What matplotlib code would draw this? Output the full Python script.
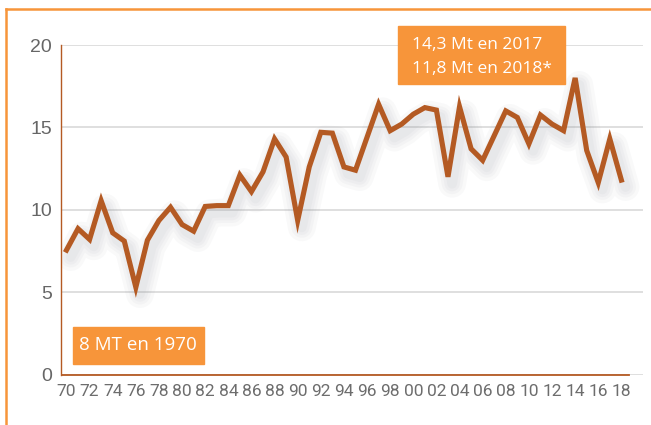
import matplotlib
matplotlib.use("Agg")
import matplotlib.pyplot as plt
import matplotlib.transforms as mtransforms
from matplotlib.lines import Line2D
from matplotlib.patches import Rectangle

years = list(range(1970, 2019))
values = [7.55, 8.85, 8.2, 10.55, 8.6, 8.1, 5.3, 8.15, 9.35, 10.15,
          9.1, 8.7, 10.2, 10.25, 10.25, 12.1, 11.1, 12.3, 14.3, 13.2,
          9.35, 12.6, 14.7, 14.65, 12.6, 12.4, 14.4, 16.4, 14.8, 15.2,
          15.8, 16.2, 16.05, 12.0, 16.25, 13.7, 13.0, 14.5, 16.0, 15.6,
          14.0, 15.75, 15.2, 14.8, 18.0, 13.6, 11.65, 14.3, 11.8]
tick_years = list(range(1970, 2019, 2))
tick_labels = [str(y)[2:] for y in tick_years]
y_ticks = [0, 5, 10, 15, 20]

orange = '#F7953A'
brown = '#B45A23'

W, H = 651, 425
fig = plt.figure(figsize=(W / 100, H / 100), dpi=100)
ax = fig.add_axes([61.5 / W, (H - 374.5) / H, (643 - 61.5) / W, (374.5 - 45) / H])

# soft drop shadow: a few wide, faint, round-joined copies shifted down-right
shift = ax.transData + mtransforms.ScaledTranslation(3 / 72, -5 / 72, fig.dpi_scale_trans)
for w in (20, 15, 11, 7):
    ax.plot(years, values, color='#8a8f99', alpha=0.05, lw=w,
            solid_joinstyle='round', solid_capstyle='round', transform=shift, zorder=2)
ax.plot(years, values, color=brown, lw=3.7, solid_joinstyle='miter', zorder=3)

ax.set_xlim(1969.57, 2019.87)
ax.set_ylim(0, 20)
ax.set_yticks(y_ticks)
ax.set_yticklabels([str(v) for v in y_ticks], family=['Liberation Sans', 'DejaVu Sans'])
ax.set_xticks(tick_years)
ax.set_xticklabels(tick_labels, family=['Roboto', 'DejaVu Sans'])
ax.yaxis.grid(True, color='#d9d9d9', lw=1.2)
ax.set_axisbelow(True)
ax.tick_params(axis='y', length=0, pad=7, labelsize=14, labelcolor='#666666')
ax.tick_params(axis='x', length=0, pad=7, labelsize=12.5, labelcolor='#6d6d6d')
for s in ('top', 'right'):
    ax.spines[s].set_visible(False)
ax.spines['left'].set_color(brown)
ax.spines['left'].set_linewidth(1)
ax.spines['bottom'].set_color(brown)
ax.spines['bottom'].set_linewidth(1.3)
ax.spines['bottom'].set_bounds(1969.57, 2018.66)

# orange frame, top and left
fig.add_artist(Line2D([6 / W, 1], [1 - 8.5 / H, 1 - 8.5 / H], color=orange, lw=1.8))
fig.add_artist(Line2D([6 / W, 6 / W], [0, 1 - 8.5 / H], color=orange, lw=1.8))

# annotation boxes
fig.add_artist(Rectangle((398 / W, 1 - 84 / H), 167 / W, 58 / H, color=orange, zorder=5))
fig.text(412 / W, 1 - 45 / H, '14,3 Mt en 2017', color='white', fontsize=12.5,
         family='Open Sans', va='center', zorder=6)
fig.text(412 / W, 1 - 69 / H, '11,8 Mt en 2018*', color='white', fontsize=12.5,
         family='Open Sans', va='center', zorder=6)
fig.add_artist(Rectangle((72.5 / W, 1 - 364 / H), 131.5 / W, 37.5 / H, color=orange, zorder=5))
fig.text(79 / W, 1 - 345.5 / H, '8 MT en 1970', color='white', fontsize=13.5,
         family='Open Sans', va='center', zorder=6)

fig.savefig('out.png', dpi=100)
